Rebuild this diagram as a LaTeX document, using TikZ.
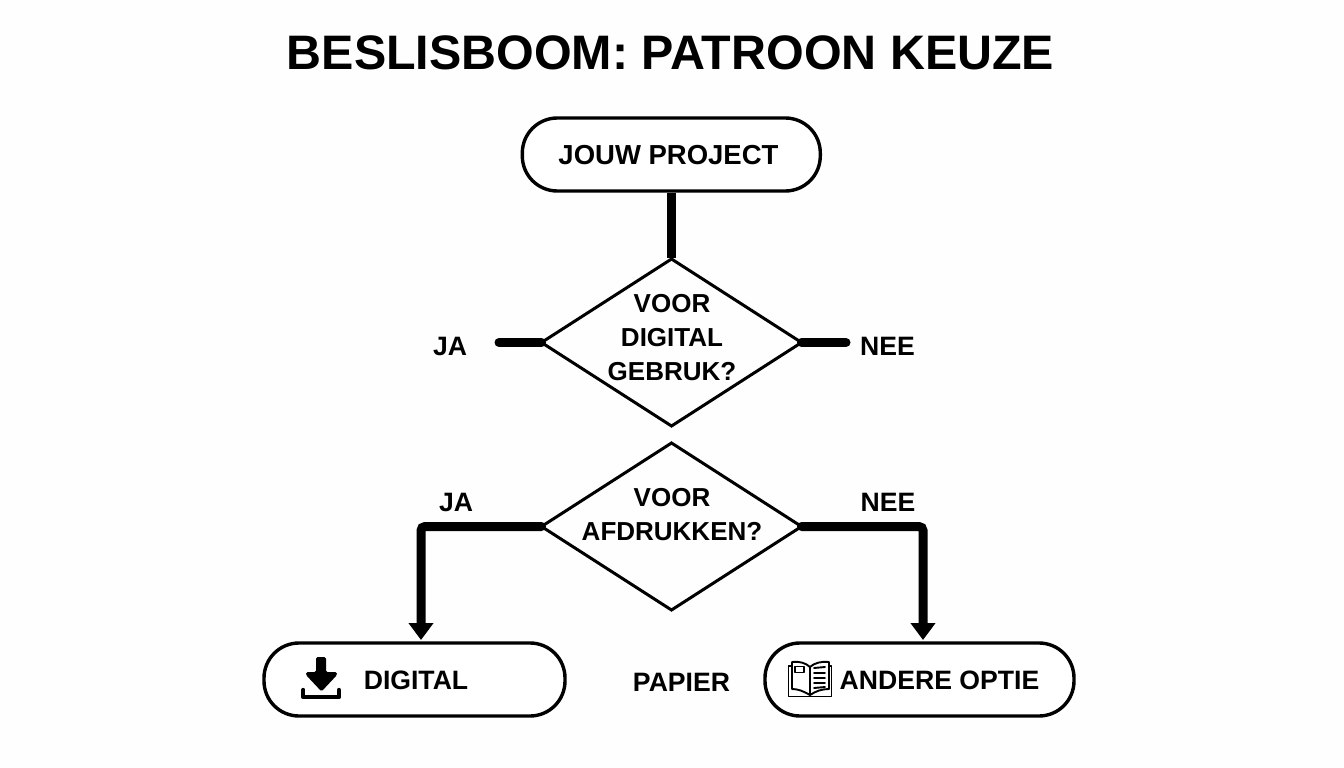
\documentclass[tikz,border=0pt]{standalone}
\usepackage{fontspec}
\setmainfont{Liberation Sans}
\usetikzlibrary{shapes.geometric,arrows.meta,calc}
\tikzset{
  lbl/.style={font=\bfseries\fontsize{26.6}{34}\selectfont,text=black,inner sep=0pt,align=center},
  qlbl/.style={font=\bfseries\fontsize{26}{34}\selectfont,text=black,inner sep=0pt,align=center},
  pill/.style={draw=black,line width=3.4pt,rounded corners=35pt,minimum height=73pt,inner sep=0pt,fill=white},
  decision/.style={draw=black,line width=3pt,shape=diamond,minimum width=260pt,minimum height=167pt,inner sep=0pt,outer sep=0pt},
  stub/.style={draw=black,line width=9pt,line cap=round},
  flow/.style={draw=black,line width=9pt,rounded corners=4pt,line cap=round,-{Triangle[width=24pt,length=17pt]}},
  thin icon/.style={draw=black,line width=1.9pt,line join=round,line cap=round}
}
\begin{document}
\begin{tikzpicture}[x=1pt,y=-1pt]
\useasboundingbox (0,0) rectangle (1344,768);
\fill[white!99.5!black] (0,0) rectangle (1344,768);
\node[font=\bfseries\fontsize{48.4}{52}\selectfont,inner sep=0pt] (title) at (670.5,53) {BESLISBOOM: PATROON KEUZE};
% nodes
\node[pill,minimum width=298pt] (start) at (671.3,154.5) {};
\node[lbl,font=\bfseries\fontsize{27.5}{34}\selectfont] (startt) at (668.5,155) {JOUW PROJECT};
\node[decision] (d1) at (671.5,342.5) {};
\node[decision] (d2) at (671.5,526.5) {};
\node[qlbl] (d1t) at (672,338) {VOOR\\DIGITAL\\GEBRUK?};
\node[qlbl] (d2t) at (672,515) {VOOR\\AFDRUKKEN?};
\node[lbl] (ja1) at (450,346.5) {JA};
\node[lbl] (nee1) at (887.5,346.5) {NEE};
\node[lbl] (ja2) at (456,502) {JA};
\node[lbl] (nee2) at (888,502) {NEE};
\node[pill,minimum width=301pt] (digital) at (414.5,679.5) {};
\node[pill,minimum width=309pt] (andere) at (919.5,679.5) {};
\node[lbl] (digitalt) at (416,680.5) {DIGITAL};
\node[lbl] (papier) at (681.5,682) {PAPIER};
\node[lbl] (anderet) at (939.5,680.5) {ANDERE OPTIE};
% connector ends
\coordinate (ja1end) at (499,342.5);
\coordinate (nee1end) at (846,342.5);
\coordinate (digin) at (421,640);
\coordinate (andin) at (923,640);
% connectors
\draw[stub,line cap=butt] (d1.north |- start.south) -- ($(d1.north)+(0,-1)$);
\draw[stub] (d1.west) -- (ja1end);
\draw[stub] (d1.east) -- (nee1end);
\draw[flow] (d2.west) -| (digin);
\draw[flow] (d2.east) -| (andin);
% download icon
\fill[black,rounded corners=1.5pt] (316,657) -- (326,657) -- (326,672) -- (337,672) -- (337,675) -- (321.5,691.5) -- (306,675) -- (306,672) -- (316,672) -- cycle;
\draw[black,line width=4.4pt,line join=round,line cap=round] (303.2,690) -- (303.2,697) -- (339,697) -- (339,690);
% book icon
\draw[thin icon] (810,695) .. controls (803,691) and (798,689) .. (792,689) -- (792,662) .. controls (799,661) and (806,663) .. (810,667) .. controls (814,663) and (822,661) .. (829,662) -- (829,689) .. controls (822,689) and (816,691) .. (810,695) -- cycle;
\draw[thin icon] (810,667) -- (810,695);
\draw[thin icon] (792,666) -- (788.5,666) -- (788.5,696.5) -- (831.5,696.5) -- (831.5,666) -- (829,666);
\draw[thin icon] (795,666.5) rectangle (804,672.5);
\draw[thin icon] (814,668) -- (825,667);
\draw[thin icon] (814,673) -- (825,673);
\draw[thin icon] (814,678) -- (825,678);
\draw[thin icon] (814,683) -- (825,683);
\draw[thin icon] (814,688) -- (825,687);
\end{tikzpicture}
\end{document}
